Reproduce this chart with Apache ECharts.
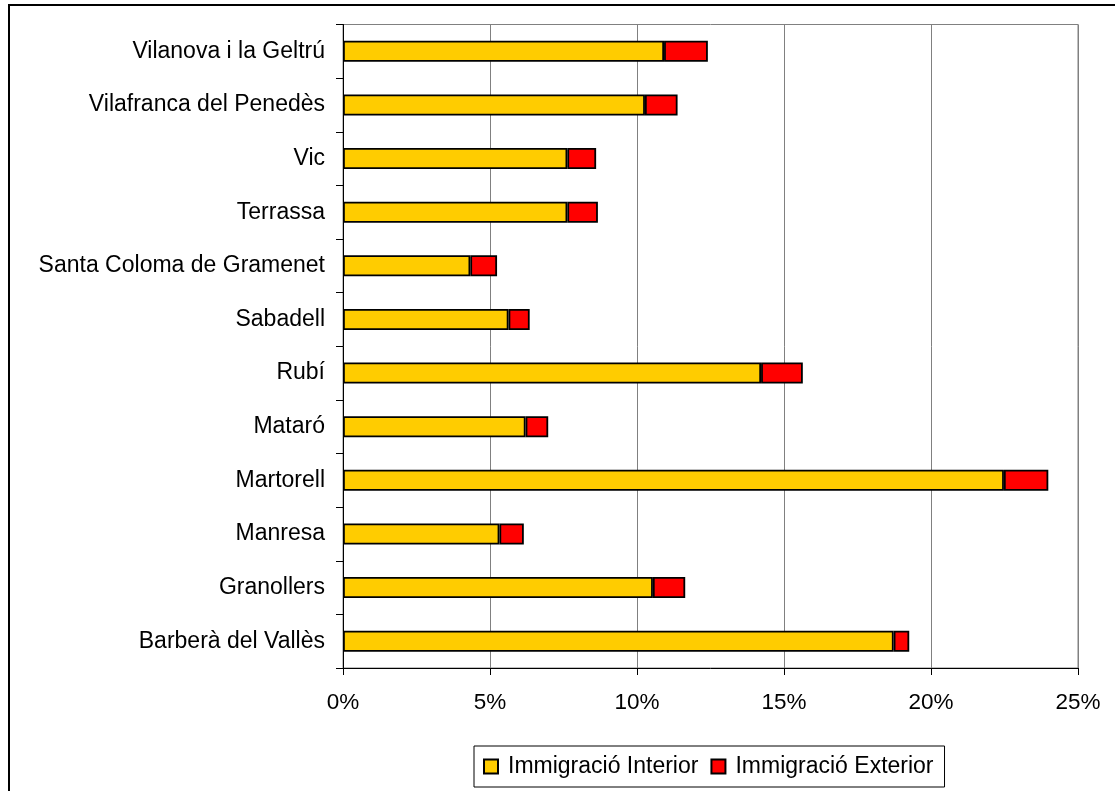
<!DOCTYPE html>
<html>
<head>
<meta charset="utf-8">
<script src="https://cdn.jsdelivr.net/npm/echarts@6/dist/echarts.min.js"></script>
<style>html,body{margin:0;padding:0;background:#fff}#c{width:1115px;height:791px}</style>
</head>
<body>
<div id="c"></div>
<script>
const categories = ["Barberà del Vallès","Granollers","Manresa","Martorell","Mataró","Rubí","Sabadell","Santa Coloma de Gramenet","Terrassa","Vic","Vilafranca del Penedès","Vilanova i la Geltrú"];
const interior = [18.73,10.54,5.32,22.48,6.21,14.22,5.63,4.33,7.63,7.63,10.27,10.92];
const exterior = [0.53,1.10,0.83,1.51,0.77,1.42,0.72,0.91,1.04,0.98,1.11,1.49];
const xTicks = {min:0, max:25, interval:5};
const seriesNames = ["Immigració Interior","Immigració Exterior"];

const font = "'Liberation Sans', Arial, sans-serif";
const chart = echarts.init(document.getElementById('c'), null, {renderer:'canvas'});
chart.setOption({
  animation:false,
  backgroundColor:'#fff',
  graphic:[{type:'rect',shape:{x:9,y:5,width:1300,height:1000},style:{fill:'none',stroke:'#000',lineWidth:2},silent:true,z:-1}],
  grid:{left:343,right:37,top:24.5,bottom:123,show:true,borderColor:'#808080',borderWidth:1,containLabel:false},
  legend:{
    left:474, top:746, orient:'horizontal',
    borderColor:'#000', borderWidth:1, padding:[9,11,9,9],
    itemWidth:14, itemHeight:14, itemGap:12, icon:'rect',
    textStyle:{fontFamily:font,fontSize:23,color:'#000',padding:[0,0,0,5]},
    data:seriesNames
  },
  xAxis:{
    type:'value', min:xTicks.min, max:xTicks.max, interval:xTicks.interval,
    axisLine:{show:true,lineStyle:{color:'#000',width:1}},
    axisTick:{show:true,length:7,lineStyle:{color:'#000'}},
    axisLabel:{formatter:'{value}%',fontFamily:font,fontSize:22.5,color:'#000',margin:23},
    splitLine:{show:true,lineStyle:{color:'#808080',width:1}}
  },
  yAxis:{
    type:'category', data:categories,
    axisLine:{show:true,lineStyle:{color:'#000',width:1}},
    axisTick:{show:true,length:7,lineStyle:{color:'#000'}},
    axisLabel:{fontFamily:font,fontSize:23,color:'#000',margin:18},
    splitLine:{show:false}
  },
  series:[
    {name:seriesNames[0],type:'bar',stack:'t',data:interior,barWidth:21,
     itemStyle:{color:'#FFCC00',borderColor:'#000',borderWidth:1.8}},
    {name:seriesNames[1],type:'bar',stack:'t',data:exterior,barWidth:21,
     itemStyle:{color:'#FF0000',borderColor:'#000',borderWidth:1.8}}
  ]
});
</script>
</body>
</html>
